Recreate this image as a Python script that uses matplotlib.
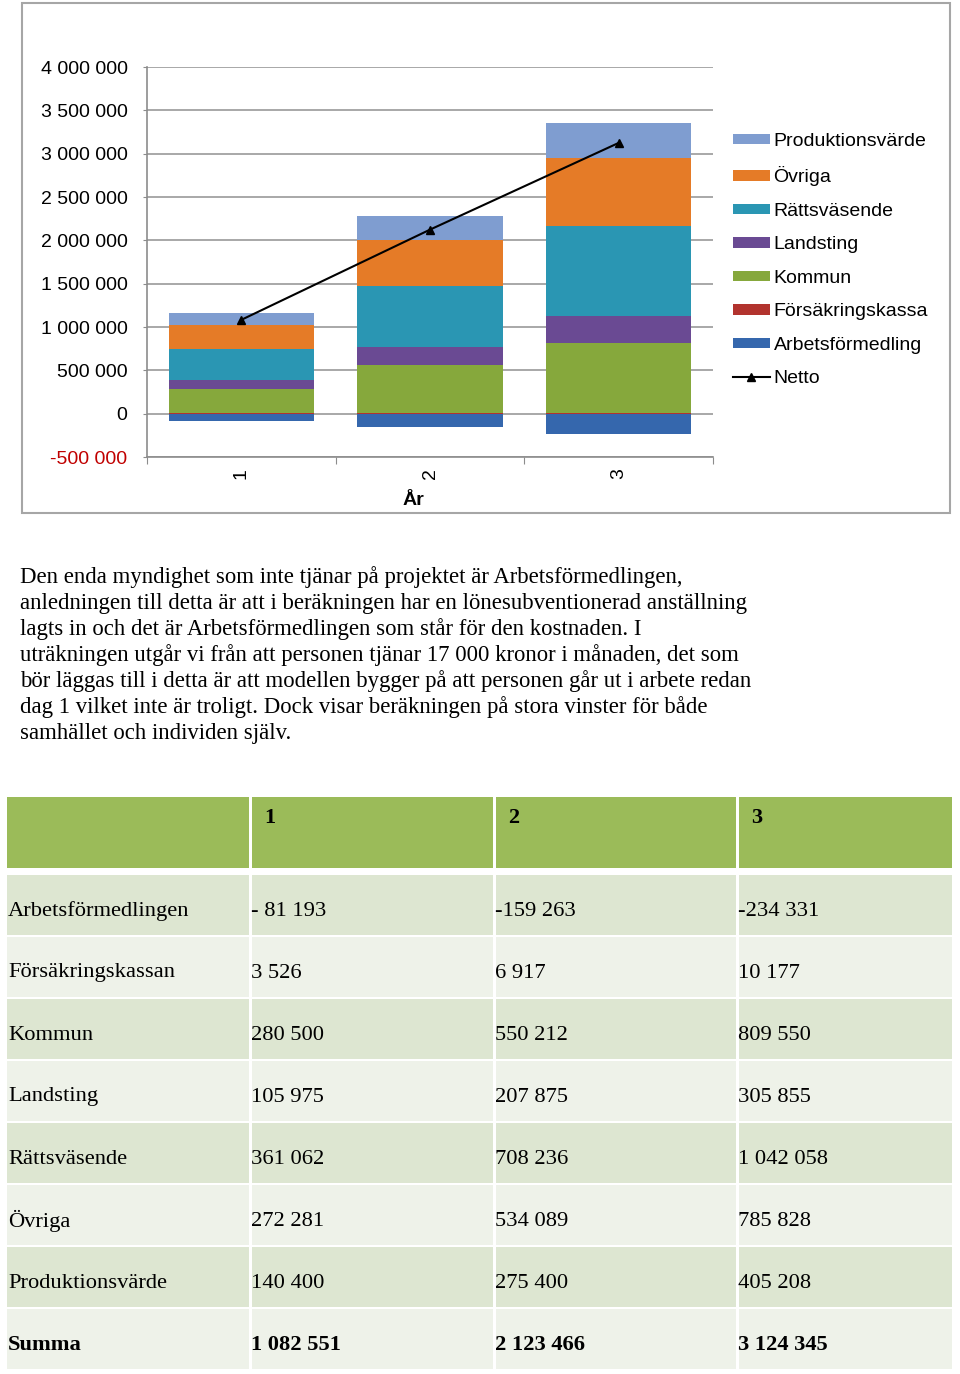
import numpy as np
import matplotlib
matplotlib.use("Agg")
import matplotlib.pyplot as plt
from matplotlib.patches import Rectangle

# ----------------------------
# Data
# ----------------------------
years = ["1", "2", "3"]
arbetsformedling = [-81193, -159263, -234331]
forsakringskassa = [3526, 6917, 10177]
kommun = [280500, 550212, 809550]
landsting = [105975, 207875, 305855]
rattsvasende = [361062, 708236, 1042058]
ovriga = [272281, 534089, 785828]
produktionsvarde = [140400, 275400, 405208]
netto = [1082551, 2123466, 3124345]

yticks = [-500000, 0, 500000, 1000000, 1500000, 2000000, 2500000, 3000000, 3500000, 4000000]
ytick_labels = ["-500 000", "0", "500 000", "1 000 000", "1 500 000", "2 000 000",
                "2 500 000", "3 000 000", "3 500 000", "4 000 000"]

paragraph = [
    "Den enda myndighet som inte tjänar på projektet är Arbetsförmedlingen,",
    "anledningen till detta är att i beräkningen har en lönesubventionerad anställning",
    "lagts in och det är Arbetsförmedlingen som står för den kostnaden. I",
    "uträkningen utgår vi från att personen tjänar 17 000 kronor i månaden, det som",
    "bör läggas till i detta är att modellen bygger på att personen går ut i arbete redan",
    "dag 1 vilket inte är troligt. Dock visar beräkningen på stora vinster för både",
    "samhället och individen själv.",
]

row_names = ["Arbetsförmedlingen", "Försäkringskassan", "Kommun", "Landsting",
             "Rättsväsende", "Övriga", "Produktionsvärde", "Summa"]
row_values = [
    ["- 81 193", "-159 263", "-234 331"],
    ["3 526", "6 917", "10 177"],
    ["280 500", "550 212", "809 550"],
    ["105 975", "207 875", "305 855"],
    ["361 062", "708 236", "1 042 058"],
    ["272 281", "534 089", "785 828"],
    ["140 400", "275 400", "405 208"],
    ["1 082 551", "2 123 466", "3 124 345"],
]

# ----------------------------
# Figure
# ----------------------------
W, H = 960, 1374
fig = plt.figure(figsize=(W / 100, H / 100), dpi=100)
fig.patch.set_facecolor("white")

def fx(px):
    return px / W

def fy(py):
    return 1 - py / H

# chart frame
fig.patches.append(Rectangle((fx(22), fy(513)), fx(950) - fx(22), fy(3) - fy(513),
                             transform=fig.transFigure, fill=False,
                             edgecolor="#a6a6a6", linewidth=1.5))

ax = fig.add_axes([fx(147), fy(457), fx(713) - fx(147), fy(67) - fy(457)])

x = np.arange(len(years))
bw = 0.77
series = [
    ("Arbetsförmedling", arbetsformedling, "#3567ad"),
    ("Försäkringskassa", forsakringskassa, "#b2332e"),
    ("Kommun", kommun, "#86a83c"),
    ("Landsting", landsting, "#6a4a93"),
    ("Rättsväsende", rattsvasende, "#2a96b3"),
    ("Övriga", ovriga, "#e57b27"),
    ("Produktionsvärde", produktionsvarde, "#7f9dd0"),
]

handles = {}
pos_base = np.zeros(len(years))
for name, vals, col in series:
    vals = np.array(vals, dtype=float)
    if vals[0] < 0:
        h = ax.bar(x, vals, bw, bottom=0, color=col, zorder=3)
    else:
        h = ax.bar(x, vals, bw, bottom=pos_base, color=col, zorder=3)
        pos_base += vals
    handles[name] = h

line, = ax.plot(x, netto, color="black", linewidth=1.5, marker="^",
                markersize=6, zorder=5)

ax.set_xlim(-0.5, 2.5)
ax.set_ylim(-500000, 4000000)
ax.set_yticks(yticks)
ax.set_yticklabels(ytick_labels, fontsize=14, family="Liberation Sans")
for lab in ax.get_yticklabels():
    if lab.get_text().startswith("-"):
        lab.set_color("#c00000")
ax.tick_params(axis="y", length=3, color="#8c8c8c", pad=11)
ax.yaxis.grid(True, color="#999999", linewidth=1.2, zorder=0)
ax.set_axisbelow(True)

ax.set_xticks([-0.5, 0.5, 1.5, 2.5], minor=False)
ax.set_xticklabels([])
ax.tick_params(axis="x", which="major", length=5, color="#8c8c8c", direction="out")
ax.set_xticks(x, minor=True)
ax.set_xticklabels(years, minor=True, rotation=90, fontsize=14, family="Liberation Sans")
ax.tick_params(axis="x", which="minor", length=0, pad=8)

ax.set_xlabel("År", fontsize=14, fontweight="bold", family="Liberation Sans", labelpad=10)
ax.xaxis.set_label_coords((413 - 147) / (713 - 147), -0.09)

for s in ["top", "right"]:
    ax.spines[s].set_visible(False)
ax.spines["left"].set_color("#8c8c8c")
ax.spines["bottom"].set_color("#8c8c8c")
ax.spines["left"].set_linewidth(1.2)
ax.spines["bottom"].set_linewidth(1.2)

order = ["Produktionsvärde", "Övriga", "Rättsväsende", "Landsting", "Kommun",
         "Försäkringskassa", "Arbetsförmedling"]
leg = fig.legend([handles[n] for n in order] + [line], order + ["Netto"],
                 loc="upper left", bbox_to_anchor=(fx(725), fy(125)),
                 frameon=False, prop={"family": "Liberation Sans", "size": 14},
                 handlelength=1.9, handleheight=0.45, handletextpad=0.2,
                 labelspacing=0.85, borderaxespad=0)

# ----------------------------
# Paragraph text
# ----------------------------
for i, t in enumerate(paragraph):
    fig.text(fx(20), fy(577 + 26 * i), t, fontsize=16.4, family="Liberation Serif",
             va="center", ha="left")

# ----------------------------
# Table
# ----------------------------
col_edges = [7, 249, 493, 736, 952]
gap = 2.5

def cell(x0, x1, y0, y1, color):
    fig.patches.append(Rectangle((fx(x0), fy(y1)), fx(x1) - fx(x0), fy(y0) - fy(y1),
                                 transform=fig.transFigure, facecolor=color,
                                 edgecolor="none"))

for c in range(4):
    cell(col_edges[c] + (gap if c > 0 else 0), col_edges[c + 1], 797, 868, "#9bbb59")
for c, lab in enumerate(years):
    fig.text(fx(col_edges[c + 1] + 15), fy(818), lab, fontsize=16, fontweight="bold",
             family="Liberation Serif", va="center", ha="left")

for r, name in enumerate(row_names):
    top = 875 + 62 * r
    color = "#dde6d1" if r % 2 == 0 else "#eef2e9"
    for c in range(4):
        cell(col_edges[c] + (gap if c > 0 else 0), col_edges[c + 1], top, top + 60, color)
    weight = "bold" if name == "Summa" else "normal"
    fig.text(fx(8), fy(top + 36), name, fontsize=16.2, fontweight=weight,
             family="Liberation Serif", va="center", ha="left")
    for c, v in enumerate(row_values[r]):
        fig.text(fx(col_edges[c + 1] + 2), fy(top + 36), v, fontsize=16.2, fontweight=weight,
                 family="Liberation Serif", va="center", ha="left")

fig.savefig("out.png", dpi=100)
